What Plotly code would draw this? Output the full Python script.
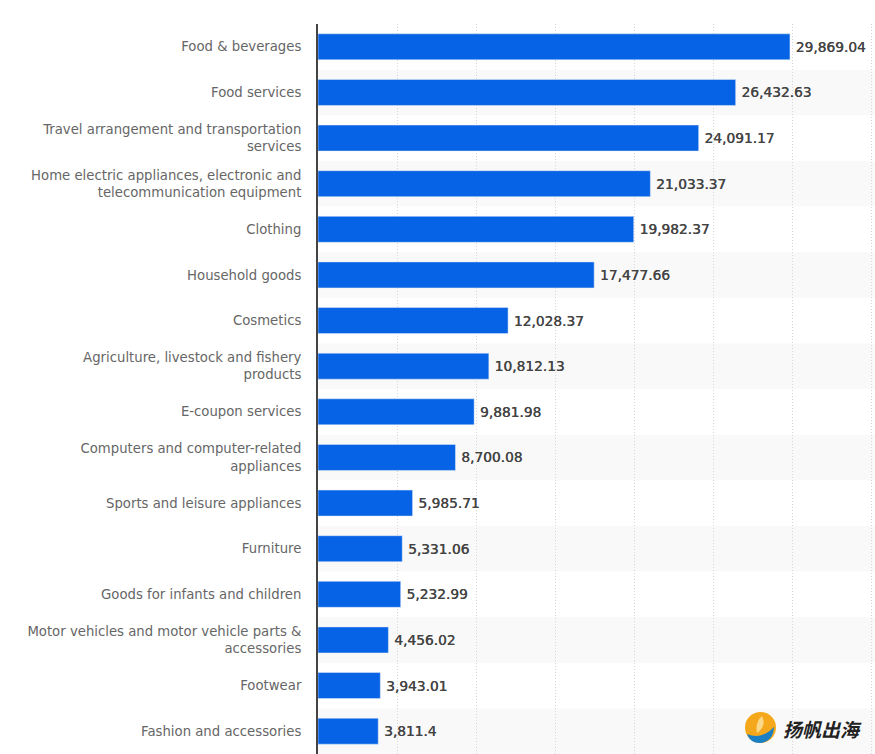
import plotly.graph_objects as go

# Categories and values
categories = [
    "Food & beverages",
    "Food services",
    "Travel arrangement and transportation<br>services",
    "Home electric appliances, electronic and<br>telecommunication equipment",
    "Clothing",
    "Household goods",
    "Cosmetics",
    "Agriculture, livestock and fishery<br>products",
    "E-coupon services",
    "Computers and computer-related<br>appliances",
    "Sports and leisure appliances",
    "Furniture",
    "Goods for infants and children",
    "Motor vehicles and motor vehicle parts &<br>accessories",
    "Footwear",
    "Fashion and accessories",
]
values = [29869.04, 26432.63, 24091.17, 21033.37, 19982.37, 17477.66, 12028.37, 10812.13,
          9881.98, 8700.08, 5985.71, 5331.06, 5232.99, 4456.02, 3943.01, 3811.4]
labels = [f"{v:,}" for v in values]

W, H = 875, 754
LEFT, TOP = 318, 24


def px(x):
    return (x - LEFT) / (W - LEFT)


def py(y):
    return (H - y) / (H - TOP)


fig = go.Figure()

# thin space in front of the text to push the labels off the bars
fig.add_bar(x=values, y=categories, orientation="h", marker_color="#0763e5",
            text=labels, texttemplate="\u2009%{text}", textposition="outside", cliponaxis=False,
            textfont=dict(family="DejaVu Sans", size=13.75, color="#444444",
                          shadow="0.4px 0 0 #444444"))

# Alternating row bands
shapes = []
for i in range(1, len(categories), 2):
    shapes.append(dict(type="rect", xref="paper", x0=0, x1=1, yref="y", y0=i - 0.5, y1=i + 0.5,
                       fillcolor="#f9f9f9", line_width=0, layer="below"))

# Logo, bottom right
shapes.append(dict(type="circle", xref="paper", yref="paper", x0=px(745), x1=px(776), y0=py(743), y1=py(712),
                   fillcolor="#f5a81c", line_width=0))
shapes.append(dict(type="path", xref="paper", yref="paper",
                   path=f"M {px(747)} {py(734)} Q {px(762)} {py(740)} {px(774)} {py(727)} "
                        f"Q {px(773)} {py(742)} {px(760)} {py(743)} Q {px(750)} {py(743)} {px(747)} {py(734)} Z",
                   fillcolor="#1b7fc4", line_width=0))
shapes.append(dict(type="path", xref="paper", yref="paper",
                   path=f"M {px(757)} {py(733)} Q {px(755)} {py(722)} {px(762)} {py(716)} "
                        f"Q {px(767)} {py(726)} {px(757)} {py(733)} Z",
                   fillcolor="#fbd98a", line_width=0))

fig.update_layout(
    width=W, height=H,
    margin=dict(l=LEFT, r=0, t=TOP, b=0),
    paper_bgcolor="white", plot_bgcolor="white",
    bargap=0.43,
    showlegend=False,
    shapes=shapes,
    annotations=[dict(text="<b><i>扬帆出海</i></b>", xref="paper", yref="paper", x=px(781), y=py(728),
                      xanchor="left", yanchor="middle", showarrow=False,
                      font=dict(family="Noto Sans CJK SC", size=19, color="#222222"))],
    xaxis=dict(range=[0, 35250], dtick=5000, showticklabels=False, zeroline=False,
               showgrid=True, gridcolor="#d6d6d6", griddash="1px,2px", gridwidth=1),
    yaxis=dict(autorange="reversed", showline=True, linecolor="#444444", linewidth=2,
               ticks="", ticklabelstandoff=12,
               tickfont=dict(family="DejaVu Sans", size=13.25, color="#666666")),
)

# drop the default body margin so the figure fills the window
fig.write_html("out.html", config={"displayModeBar": False},
               post_script="document.body.style.margin='0';document.body.style.overflow='hidden';")
